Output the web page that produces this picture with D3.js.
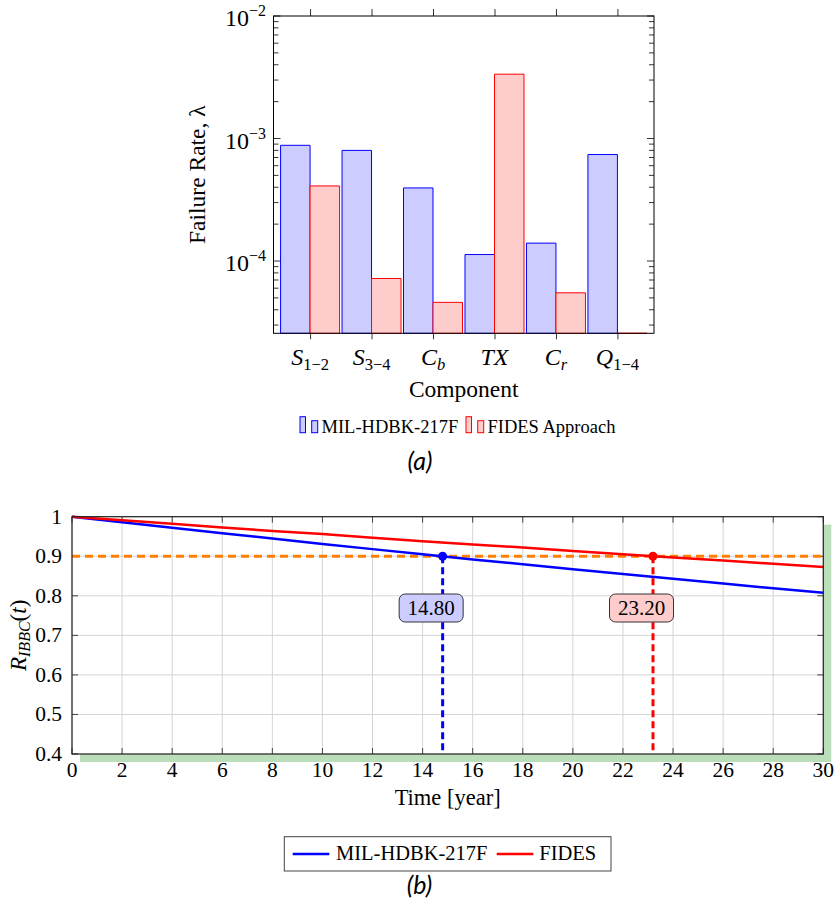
<!DOCTYPE html>
<html>
<head>
<meta charset="utf-8">
<script src="https://cdn.jsdelivr.net/npm/d3@7"></script>
<style>
  body { margin: 0; background: #fff; }
  svg { display: block; }
  text { font-family: "Liberation Serif", "DejaVu Serif", serif; fill: #000; }
  .cap { font-family: Lato, "Open Sans", sans-serif; font-style: italic; }
</style>
</head>
<body>
<svg id="fig" width="836" height="905"></svg>
<script>
// ---------- (a) failure rates per component ----------
const compBase = ["S", "S", "C", "TX", "C", "Q"];
const compSub = ["1\u22122", "3\u22124", "b", "", "r", "1\u22124"];
const compSubItalic = [false, false, true, false, true, false];
const milRates = [8.8e-4, 8.0e-4, 3.95e-4, 1.13e-4, 1.4e-4, 7.4e-4];
const fidesRates = [4.1e-4, 7.2e-5, 4.6e-5, 3.35e-3, 5.5e-5, 0];
const rateDecades = [-2, -3, -4];
const barLegend = ["MIL-HDBK-217F", "FIDES Approach"];

// ---------- (b) reliability over time ----------
const years = [0, 2, 4, 6, 8, 10, 12, 14, 16, 18, 20, 22, 24, 26, 28, 30];
const milRel = [1, 0.986, 0.972, 0.958, 0.945, 0.931, 0.918, 0.905, 0.892, 0.880, 0.867, 0.855, 0.843, 0.831, 0.819, 0.808];
const fidesRel = [1, 0.991, 0.982, 0.973, 0.964, 0.956, 0.947, 0.938, 0.930, 0.922, 0.913, 0.905, 0.897, 0.889, 0.881, 0.873];
const relTarget = 0.9;
const crossYears = [14.80, 23.20];
const lineLegend = ["MIL-HDBK-217F", "FIDES"];

const BLUE = "#0000ff", RED = "#ff0000";
const BLUE_L = "#ccccff", RED_L = "#ffcccc";
const ORANGE = "#ff8000";

const svg = d3.select("#fig");

// ================= chart (a) =================
(function () {
  const L = 273.5, R = 654, T = 16, B = 333.3;
  const x = d3.scalePoint().domain(d3.range(compBase.length)).range([L, R]).padding(0.595);
  const y = d3.scaleLog().domain([Math.pow(10, -4.59), 1e-2]).range([B, T]);
  const bw = 29.5;
  const g = svg.append("g");

  const barPath = (v, c0, c1) => {
    const yb = y.range()[0];
    const yt = v > 0 ? y(v) : yb;
    return `M${c0},${yb}V${yt}H${c1}V${yb}Z`;
  };

  g.selectAll("path.mil").data(milRates).join("path")
    .attr("class", "mil")
    .attr("d", (v, i) => barPath(v, x(i) - bw, x(i)))
    .attr("fill", BLUE_L).attr("stroke", BLUE).attr("stroke-width", 1);
  g.selectAll("path.fides").data(fidesRates).join("path")
    .attr("class", "fides")
    .attr("d", (v, i) => barPath(v, x(i), x(i) + bw))
    .attr("fill", RED_L).attr("stroke", RED).attr("stroke-width", 1);

  // frame
  g.append("rect").attr("x", L).attr("y", T).attr("width", R - L).attr("height", B - T)
    .attr("fill", "none").attr("stroke", "#000").attr("stroke-width", 1);

  // log ticks, inside on both sides
  const logTicks = y.ticks().filter(v => v >= y.domain()[0] * 0.999 && v <= y.domain()[1] * 1.001);
  logTicks.forEach(v => {
    const major = Math.abs(Math.log10(v) - Math.round(Math.log10(v))) < 1e-6;
    const len = major ? 7 : 5;
    const yy = y(v);
    g.append("line").attr("x1", L).attr("x2", L + len).attr("y1", yy).attr("y2", yy)
      .attr("stroke", "#000").attr("stroke-width", 0.8);
    g.append("line").attr("x1", R).attr("x2", R - len).attr("y1", yy).attr("y2", yy)
      .attr("stroke", "#000").attr("stroke-width", 0.8);
  });

  // category ticks outside, top and bottom
  const axB = d3.axisBottom(x).tickSize(6).tickSizeOuter(0).tickFormat("");
  const axT = d3.axisTop(x).tickSize(7).tickSizeOuter(0).tickFormat("");
  const gb = g.append("g").attr("transform", `translate(0,${B})`).call(axB);
  const gt = g.append("g").attr("transform", `translate(0,${T})`).call(axT);
  [gb, gt].forEach(a => { a.select(".domain").remove(); a.selectAll("line").attr("stroke", "#000").attr("stroke-width", 0.8); });

  // decade labels
  rateDecades.forEach(d => {
    const t = g.append("text").attr("x", 266).attr("y", y(Math.pow(10, d)) + 10)
      .attr("text-anchor", "end").style("font-size", "24px");
    t.append("tspan").text("10");
    t.append("tspan").attr("dy", -10).style("font-size", "16px").text("\u2212" + Math.abs(d));
  });

  // category labels
  compBase.forEach((b, i) => {
    const t = g.append("text").attr("x", x(i)).attr("y", 365).attr("text-anchor", "middle")
      .style("font-size", "24px");
    t.append("tspan").style("font-style", "italic").text(b);
    if (compSub[i]) {
      t.append("tspan").attr("dy", 5).style("font-size", "16.5px")
        .style("font-style", compSubItalic[i] ? "italic" : "normal").text(compSub[i]);
    }
  });

  g.append("text").attr("x", (L + R) / 2).attr("y", 397).attr("text-anchor", "middle")
    .style("font-size", "23.5px").text("Component");
  g.append("text").attr("transform", `translate(205,${(T + B) / 2}) rotate(-90)`)
    .attr("text-anchor", "middle").style("font-size", "23.5px").text("Failure Rate, \u03bb");

  // legend
  const lg = svg.append("g");
  const items = [
    { x: 300, fill: BLUE_L, stroke: BLUE, label: barLegend[0], tx: 321.5 },
    { x: 466, fill: RED_L, stroke: RED, label: barLegend[1], tx: 487.5 }
  ];
  items.forEach(it => {
    lg.append("rect").attr("x", it.x).attr("y", 416.7).attr("width", 5.5).attr("height", 16)
      .attr("fill", it.fill).attr("stroke", it.stroke).attr("stroke-width", 1);
    lg.append("rect").attr("x", it.x + 11.7).attr("y", 420.7).attr("width", 6).attr("height", 12)
      .attr("fill", it.fill).attr("stroke", it.stroke).attr("stroke-width", 1);
    lg.append("text").attr("x", it.tx).attr("y", 433.3).style("font-size", "18.5px").text(it.label);
  });

  svg.append("text").attr("class", "cap").attr("x", 420).attr("y", 470)
    .attr("text-anchor", "middle").style("font-size", "25px").text("(a)");
})();

// ================= chart (b) =================
(function () {
  const L = 72, R = 823.3, T = 516.7, B = 754;
  const x = d3.scaleLinear().domain([0, 30]).range([L, R]);
  const y = d3.scaleLinear().domain([0.4, 1]).range([B, T]);
  const g = svg.append("g");

  // green drop shadow behind the plot area
  g.append("rect").attr("x", L + 8).attr("y", T + 8).attr("width", R - L).attr("height", B - T)
    .attr("fill", "#badeba");
  g.append("rect").attr("x", L).attr("y", T).attr("width", R - L).attr("height", B - T)
    .attr("fill", "#fff");

  const xt = x.ticks(15), yt = y.ticks(6);

  // grid
  g.selectAll("line.gx").data(xt).join("line").attr("class", "gx")
    .attr("x1", d => x(d)).attr("x2", d => x(d)).attr("y1", T).attr("y2", B)
    .attr("stroke", "#d4d4d4").attr("stroke-width", 1);
  g.selectAll("line.gy").data(yt).join("line").attr("class", "gy")
    .attr("x1", L).attr("x2", R).attr("y1", d => y(d)).attr("y2", d => y(d))
    .attr("stroke", "#d4d4d4").attr("stroke-width", 1);

  // inside ticks on all four sides
  const tk = 6;
  xt.forEach(d => {
    g.append("line").attr("x1", x(d)).attr("x2", x(d)).attr("y1", B).attr("y2", B - tk).attr("stroke", "#444");
    g.append("line").attr("x1", x(d)).attr("x2", x(d)).attr("y1", T).attr("y2", T + tk).attr("stroke", "#444");
  });
  yt.forEach(d => {
    g.append("line").attr("x1", L).attr("x2", L + tk).attr("y1", y(d)).attr("y2", y(d)).attr("stroke", "#444");
    g.append("line").attr("x1", R).attr("x2", R - tk).attr("y1", y(d)).attr("y2", y(d)).attr("stroke", "#444");
  });

  // target reliability
  g.append("line").attr("x1", L).attr("x2", R).attr("y1", y(relTarget)).attr("y2", y(relTarget))
    .attr("stroke", ORANGE).attr("stroke-width", 3).attr("stroke-dasharray", "8,5");

  // drop lines from crossing points
  const crossCol = [BLUE, RED];
  crossYears.forEach((c, i) => {
    g.append("line").attr("x1", x(c)).attr("x2", x(c)).attr("y1", y(relTarget)).attr("y2", B)
      .attr("stroke", crossCol[i]).attr("stroke-width", 3).attr("stroke-dasharray", "7,4");
  });

  // reliability curves
  const line = d3.line().x((d, i) => x(years[i])).y(d => y(d));
  g.append("path").datum(milRel).attr("d", line).attr("fill", "none").attr("stroke", BLUE).attr("stroke-width", 2.5);
  g.append("path").datum(fidesRel).attr("d", line).attr("fill", "none").attr("stroke", RED).attr("stroke-width", 2.5);

  // crossing markers
  crossYears.forEach((c, i) => {
    g.append("circle").attr("cx", x(c)).attr("cy", y(relTarget)).attr("r", 4.5).attr("fill", crossCol[i]);
  });

  // value boxes
  const boxFill = [BLUE_L, RED_L];
  crossYears.forEach((c, i) => {
    const cx = x(c) - 11.5, cy = 608;
    g.append("rect").attr("x", cx - 32).attr("y", cy - 14).attr("width", 64).attr("height", 28)
      .attr("rx", 6).attr("fill", boxFill[i]).attr("stroke", "#333").attr("stroke-width", 1);
    g.append("text").attr("x", cx).attr("y", cy + 7).attr("text-anchor", "middle")
      .style("font-size", "21px").text(c.toFixed(2));
  });

  // frame
  g.append("rect").attr("x", L).attr("y", T).attr("width", R - L).attr("height", B - T)
    .attr("fill", "none").attr("stroke", "#222").attr("stroke-width", 1.2);

  // tick labels
  g.selectAll("text.xl").data(xt).join("text").attr("class", "xl")
    .attr("x", d => x(d)).attr("y", 777).attr("text-anchor", "middle")
    .style("font-size", "21.5px").text(d => d);
  g.selectAll("text.yl").data(yt).join("text").attr("class", "yl")
    .attr("x", 62).attr("y", d => y(d) + 7).attr("text-anchor", "end")
    .style("font-size", "21.5px").text(d => Math.abs(d - 1) < 1e-9 ? "1" : d3.format(".1f")(d));

  g.append("text").attr("x", (L + R) / 2).attr("y", 805).attr("text-anchor", "middle")
    .style("font-size", "22.5px").text("Time [year]");
  const yl = g.append("text").attr("transform", `translate(26,${(T + B) / 2}) rotate(-90)`)
    .attr("text-anchor", "middle").style("font-size", "23px");
  yl.append("tspan").style("font-style", "italic").text("R");
  yl.append("tspan").attr("dy", 4).style("font-size", "16px").style("font-style", "italic").text("IBBC");
  yl.append("tspan").attr("dy", -4).text("(");
  yl.append("tspan").style("font-style", "italic").text("t");
  yl.append("tspan").text(")");

  // legend
  const lg = svg.append("g");
  lg.append("rect").attr("x", 284.3).attr("y", 836.7).attr("width", 326.7).attr("height", 34.3)
    .attr("fill", "#fff").attr("stroke", "#444").attr("stroke-width", 1);
  const li = [
    { x0: 292.7, col: BLUE, tx: 336, label: lineLegend[0] },
    { x0: 496.7, col: RED, tx: 539.3, label: lineLegend[1] }
  ];
  li.forEach(d => {
    lg.append("line").attr("x1", d.x0).attr("x2", d.x0 + 36.6).attr("y1", 854).attr("y2", 854)
      .attr("stroke", d.col).attr("stroke-width", 2.5);
    lg.append("text").attr("x", d.tx).attr("y", 860).style("font-size", "20.5px").text(d.label);
  });

  svg.append("text").attr("class", "cap").attr("x", 419.5).attr("y", 894)
    .attr("text-anchor", "middle").style("font-size", "25px").text("(b)");
})();
</script>
</body>
</html>
